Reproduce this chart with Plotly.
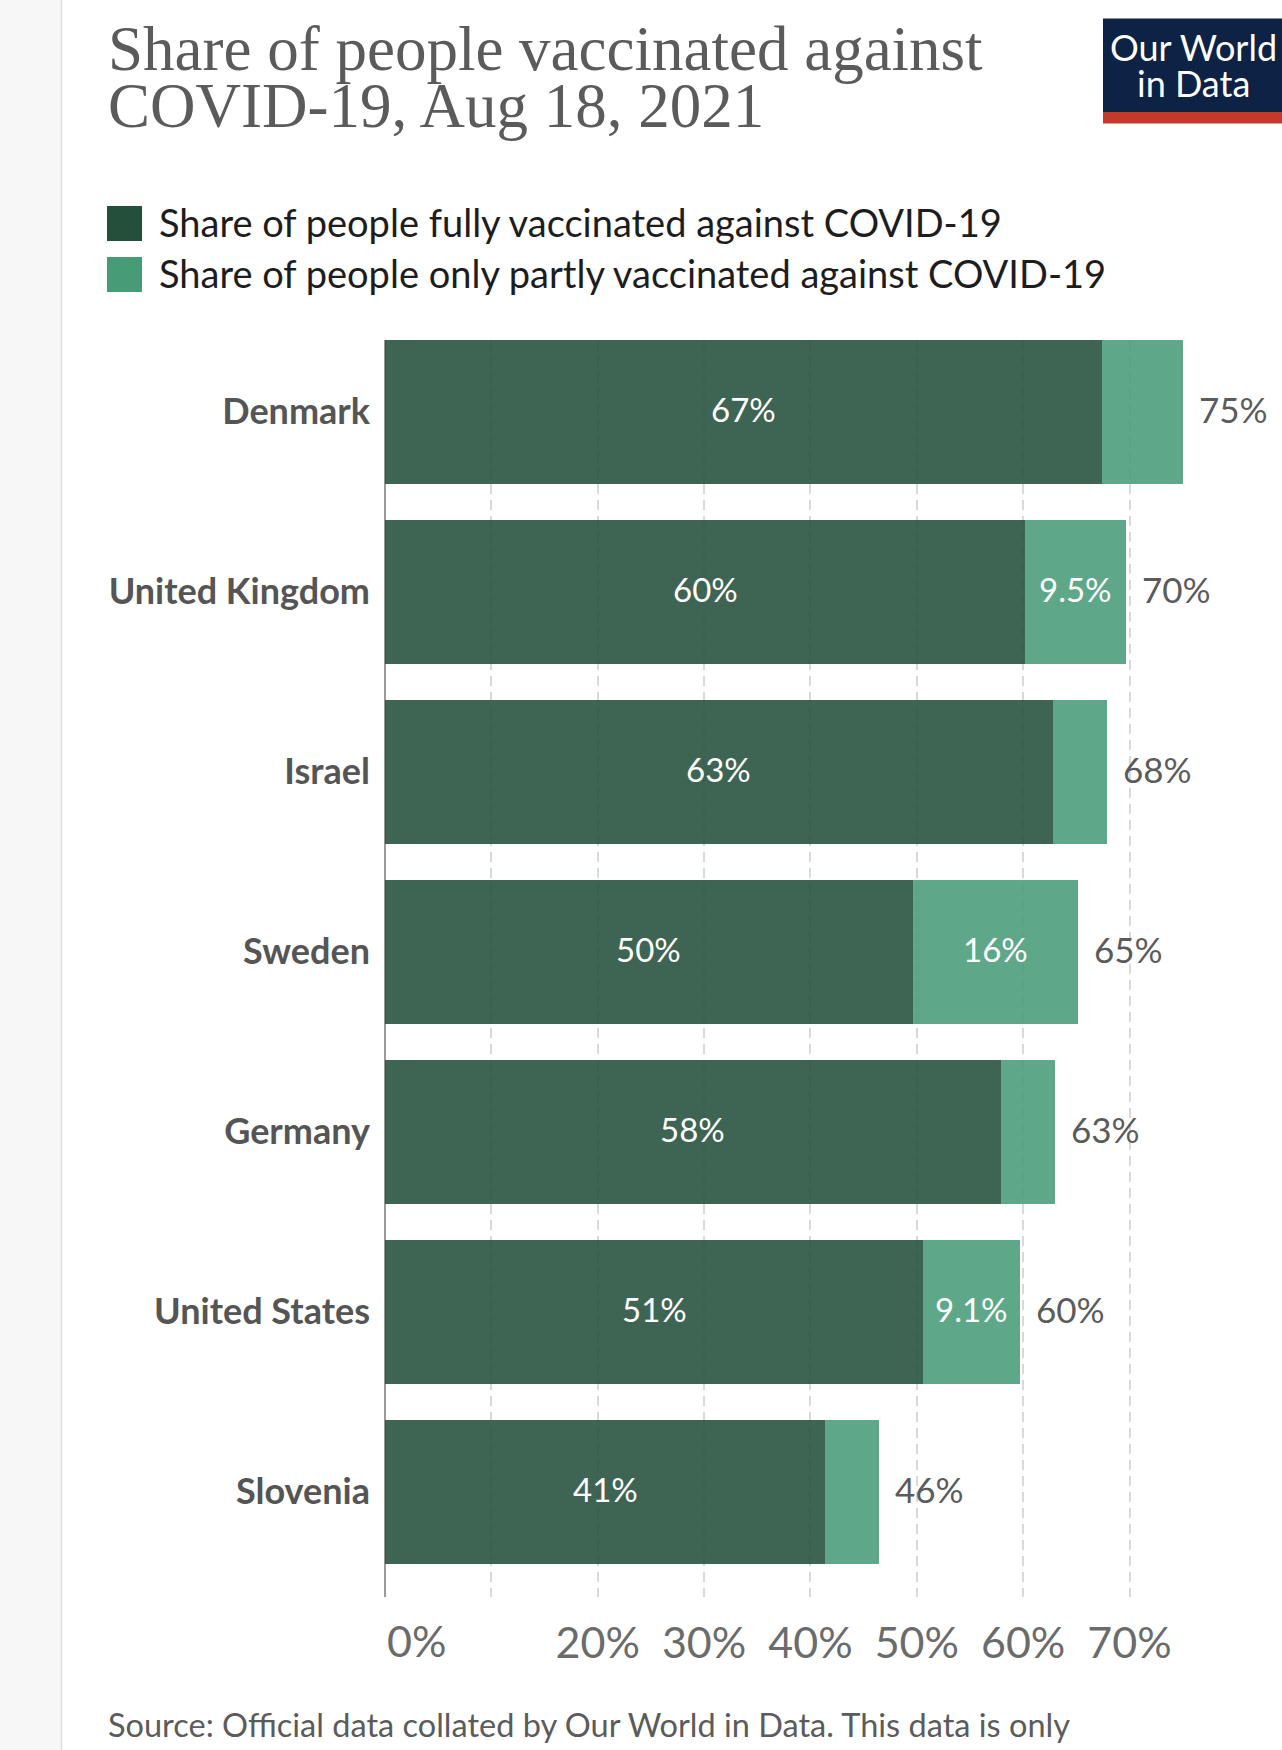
import plotly.graph_objects as go

# ---------------- data ----------------
countries = ["Denmark", "United Kingdom", "Israel", "Sweden", "Germany", "United States", "Slovenia"]
fully = [67.4, 60.2, 62.8, 49.6, 57.9, 50.6, 41.4]
partly = [7.6, 9.5, 5.1, 15.6, 5.1, 9.1, 5.0]
partly_labels = ["", "9.5%", "", "16%", "", "9.1%", ""]
x_tickvals = [0, 10, 20, 30, 40, 50, 60, 70]
x_ticktext = ["", "", "20%", "30%", "40%", "50%", "60%", "70%"]
series_names = ["Share of people fully vaccinated against COVID-19",
                "Share of people only partly vaccinated against COVID-19"]
title_lines = ["Share of people vaccinated against", "COVID-19, Aug 18, 2021"]
source_lines = ["Source: Official data collated by Our World in Data. This data is only",
                "available for countries which report the breakdown of doses administered by first and second doses in absolute numbers."]

# ---------------- layout geometry ----------------
W, H = 1282, 1750
ML, MR, MT, MB = 385, 32, 340, 153
PW, PH = W - ML - MR, H - MT - MB
PX_PER_UNIT = 10.636
PX_PER_CAT = 180.0


def px_x(p):
    return (p - ML) / PW


def px_y(p):
    return (H - MB - p) / PH


DARK = "#234f3b"
LIGHT = "#489b77"
BAR_OPACITY = 0.88
GRAY = "#5b5b5b"

fig = go.Figure()
fig.add_trace(go.Bar(
    y=countries, x=fully, orientation="h", name=series_names[0],
    marker=dict(color=DARK, opacity=BAR_OPACITY, line=dict(width=0)),
))
fig.add_trace(go.Bar(
    y=countries, x=partly, orientation="h", name=series_names[1],
    marker=dict(color=LIGHT, opacity=BAR_OPACITY, line=dict(width=0)),
))

annotations = []
label_font = dict(family="Lato", size=33, color="white")
for c, f, p, pl in zip(countries, fully, partly, partly_labels):
    t = f + p
    # label centred in the fully-vaccinated segment
    annotations.append(dict(x=f / 2, y=c, xref="x", yref="y", text=f"{round(f)}%",
                            xanchor="center", yanchor="middle", yshift=3, showarrow=False,
                            font=label_font))
    # label centred in the partly-vaccinated segment
    if pl:
        annotations.append(dict(x=f + p / 2, y=c, xref="x", yref="y", text=pl,
                                xanchor="center", yanchor="middle", yshift=3, showarrow=False,
                                font=label_font))
    # total
    annotations.append(dict(x=t, y=c, xref="x", yref="y", text=f"{round(t)}%",
                            xanchor="left", yanchor="middle", xshift=14, yshift=3, showarrow=False,
                            font=dict(family="Lato", size=35, color=GRAY)))
# 0% tick label (left-aligned as in reference)
annotations.append(dict(x=0, y=px_y(1640), xref="x", yref="paper", text="0%",
                        xanchor="left", yanchor="middle", showarrow=False,
                        font=dict(family="Lato", size=43, color="#6b6b6b")))
# title
for line, yc in zip(title_lines, [49, 106]):
    annotations.append(dict(x=px_x(106), y=px_y(yc), xref="paper", yref="paper", text=line,
                            xanchor="left", yanchor="middle", showarrow=False,
                            font=dict(family="Liberation Serif", size=63, color=GRAY)))
# legend
for name, yc in zip(series_names, [222, 273]):
    annotations.append(dict(x=px_x(157), y=px_y(yc), xref="paper", yref="paper", text=name,
                            xanchor="left", yanchor="middle", showarrow=False,
                            font=dict(family="Lato", size=38, color="#1d1d1d")))
# logo text
for line, yc in zip(["Our World", "in Data"], [47, 83]):
    annotations.append(dict(x=px_x(1193), y=px_y(yc), xref="paper", yref="paper", text=line,
                            xanchor="center", yanchor="middle", showarrow=False,
                            font=dict(family="Lato", size=36, color="white")))
# source
for line, yc in zip(source_lines, [1724, 1762]):
    annotations.append(dict(x=px_x(106), y=px_y(yc), xref="paper", yref="paper", text=line,
                            xanchor="left", yanchor="middle", showarrow=False,
                            font=dict(family="Lato", size=32.5, color=GRAY)))

shapes = [
    # left gray strip + border
    dict(type="rect", xref="paper", yref="paper", x0=px_x(0), x1=px_x(61), y0=px_y(H), y1=px_y(0),
         fillcolor="#f7f7f7", line=dict(width=0), layer="below"),
    dict(type="line", xref="paper", yref="paper", x0=px_x(61.5), x1=px_x(61.5), y0=px_y(H), y1=px_y(0),
         line=dict(color="#dcdcdc", width=1.5)),
    # legend squares
    dict(type="rect", xref="paper", yref="paper", x0=px_x(107), x1=px_x(142), y0=px_y(241), y1=px_y(206),
         fillcolor=DARK, line=dict(width=0)),
    dict(type="rect", xref="paper", yref="paper", x0=px_x(107), x1=px_x(142), y0=px_y(292), y1=px_y(257),
         fillcolor=LIGHT, line=dict(width=0)),
    # logo
    dict(type="rect", xref="paper", yref="paper", x0=px_x(1103), x1=px_x(1282), y0=px_y(112), y1=px_y(18.5),
         fillcolor="#0d2245", line=dict(width=0)),
    dict(type="rect", xref="paper", yref="paper", x0=px_x(1103), x1=px_x(1282), y0=px_y(123.5), y1=px_y(112),
         fillcolor="#c3392c", line=dict(width=0)),
]

bar_half = (1 - 0.2017) / 2
y_top = -bar_half
y_bottom = y_top + PH / PX_PER_CAT

fig.update_layout(
    width=W, height=H,
    margin=dict(l=ML, r=MR, t=MT, b=MB, pad=0),
    paper_bgcolor="white", plot_bgcolor="white",
    barmode="stack", bargap=0.2017,
    showlegend=False,
    annotations=annotations, shapes=shapes,
    xaxis=dict(range=[0, PW / PX_PER_UNIT], tickvals=x_tickvals, ticktext=x_ticktext,
               showgrid=True, gridcolor="#d9d9d9", gridwidth=1.5, griddash="10px,6px",
               zeroline=True, zerolinecolor="#9a9a9a", zerolinewidth=2,
               showline=False, ticks="", ticklabelstandoff=17,
               tickfont=dict(family="Lato", size=43, color="#6b6b6b"), fixedrange=True),
    yaxis=dict(range=[y_bottom, y_top], categoryorder="array", categoryarray=countries,
               showgrid=False, zeroline=False, showline=False, ticks="",
               ticklabelstandoff=14,
               tickfont=dict(family="Lato", size=36, color="#555555", weight="bold"), fixedrange=True),
    font=dict(family="Lato"),
)

fig.write_html("out.html")
